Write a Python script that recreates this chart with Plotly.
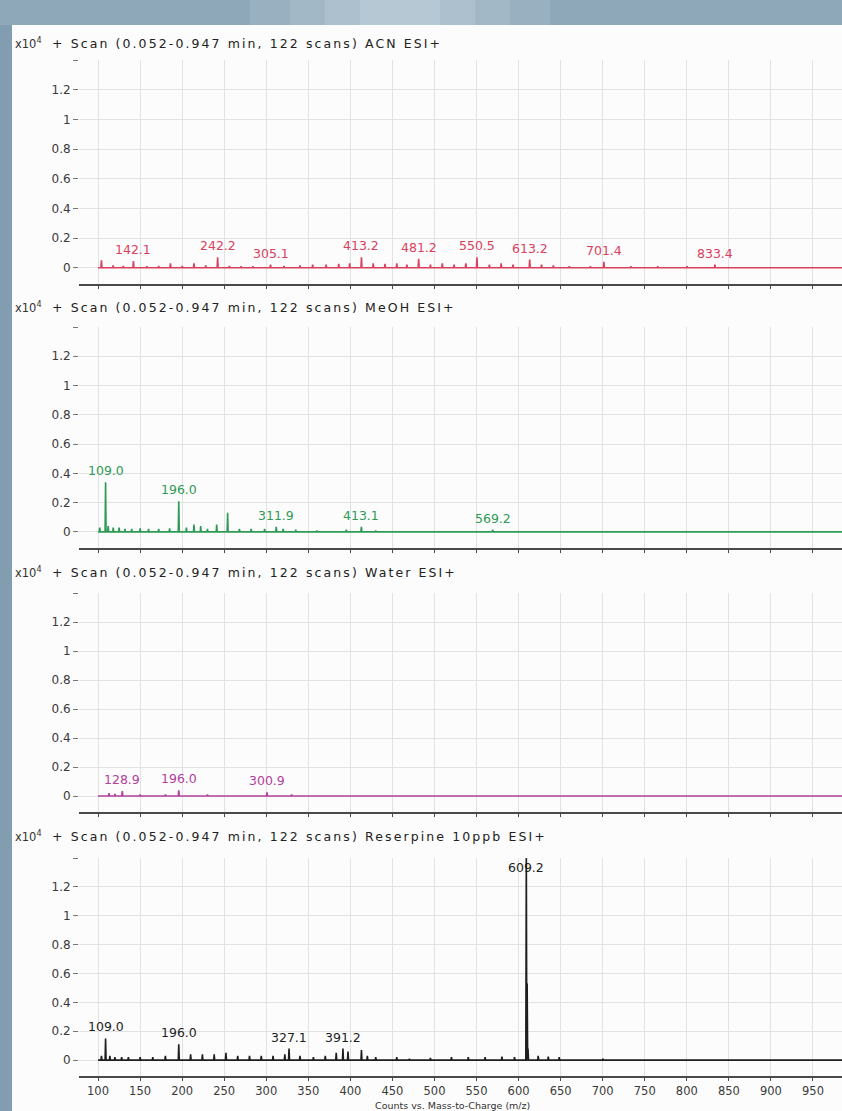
import plotly.graph_objects as go

W, H = 842, 1111

# ---------------- data (intensity in units of 10^4 counts) ----------------
scan_range = [100, 1000]
y_tick_vals = [0, 0.2, 0.4, 0.6, 0.8, 1.0, 1.2, 1.4]
y_tick_text = ["0", "0.2", "0.4", "0.6", "0.8", "1", "1.2", ""]
x_tick_vals = [100, 150, 200, 250, 300, 350, 400, 450, 500, 550, 600, 650, 700, 750, 800, 850, 900, 950]

titles = [
    "+ Scan (0.052-0.947 min, 122 scans) ACN ESI+",
    "+ Scan (0.052-0.947 min, 122 scans) MeOH ESI+",
    "+ Scan (0.052-0.947 min, 122 scans) Water ESI+",
    "+ Scan (0.052-0.947 min, 122 scans) Reserpine 10ppb ESI+",
]
x_title = "Counts vs. Mass-to-Charge (m/z)"

acn_mz = [104.1, 118.0, 130.1, 142.1, 158.1, 172.1, 186.1, 200.1, 214.1, 228.1, 242.2, 256.2,
          270.2, 284.2, 305.1, 321.2, 340.2, 355.2, 371.2, 386.2, 399.2, 413.2, 427.2, 441.2,
          455.2, 467.2, 481.2, 495.2, 509.3, 523.3, 537.3, 550.5, 565.3, 579.3, 593.3, 613.2,
          627.3, 641.3, 660.3, 685.4, 701.4, 733.4, 765.4, 800.4, 833.4]
acn_int = [0.05, 0.015, 0.012, 0.045, 0.01, 0.012, 0.03, 0.012, 0.03, 0.015, 0.07, 0.012,
           0.01, 0.01, 0.02, 0.012, 0.015, 0.02, 0.02, 0.025, 0.03, 0.07, 0.03, 0.025,
           0.03, 0.02, 0.06, 0.02, 0.03, 0.02, 0.03, 0.07, 0.02, 0.03, 0.02, 0.055,
           0.02, 0.015, 0.01, 0.01, 0.04, 0.01, 0.01, 0.01, 0.02]
acn_labels = [142.1, 242.2, 305.1, 413.2, 481.2, 550.5, 613.2, 701.4, 833.4]

meoh_mz = [102.1, 109.0, 112.1, 118.1, 125.1, 132.1, 140.1, 150.1, 160.1, 172.1, 185.1, 196.0,
           205.1, 214.1, 222.1, 230.1, 241.1, 254.1, 268.1, 282.1, 298.1, 311.9, 320.1, 335.1,
           360.2, 395.2, 413.1, 430.2, 569.2]
meoh_int = [0.03, 0.34, 0.04, 0.03, 0.03, 0.02, 0.02, 0.025, 0.02, 0.02, 0.025, 0.21,
            0.03, 0.05, 0.04, 0.02, 0.05, 0.13, 0.02, 0.02, 0.02, 0.035, 0.02, 0.015,
            0.01, 0.015, 0.035, 0.01, 0.015]
meoh_labels = [109.0, 196.0, 311.9, 413.1, 569.2]

water_mz = [113.1, 120.1, 128.9, 150.1, 180.1, 196.0, 230.1, 300.9, 330.2]
water_int = [0.02, 0.015, 0.035, 0.01, 0.01, 0.04, 0.01, 0.025, 0.01]
water_labels = [128.9, 196.0, 300.9]

res_mz = [104.1, 109.0, 114.1, 120.1, 128.1, 136.1, 150.1, 165.1, 180.1, 196.0, 210.1, 224.1,
          238.1, 252.1, 266.1, 280.1, 294.1, 308.1, 322.1, 327.1, 340.1, 356.1, 370.2, 383.2,
          391.2, 397.2, 413.2, 420.2, 430.2, 455.2, 470.2, 495.2, 520.2, 540.2, 560.2, 580.2,
          595.2, 609.2, 610.2, 611.2, 623.3, 635.3, 648.3, 700.3]
res_int = [0.03, 0.15, 0.03, 0.02, 0.02, 0.02, 0.02, 0.02, 0.03, 0.11, 0.04, 0.04,
           0.04, 0.05, 0.03, 0.03, 0.03, 0.03, 0.04, 0.08, 0.03, 0.02, 0.03, 0.05,
           0.08, 0.06, 0.07, 0.03, 0.02, 0.02, 0.01, 0.015, 0.02, 0.02, 0.02, 0.025,
           0.02, 1.45, 0.53, 0.08, 0.03, 0.025, 0.02, 0.01]
res_labels = [109.0, 196.0, 327.1, 391.2, 609.2]

series = [
    (acn_mz, acn_int, acn_labels, "#d9415f"),
    (meoh_mz, meoh_int, meoh_labels, "#2f9a55"),
    (water_mz, water_int, water_labels, "#b2409c"),
    (res_mz, res_int, res_labels, "#1e1e1e"),
]

# ---------------- layout geometry (pixels) ----------------
plot_left_px = 79
panel_px = [(60, 284), (327, 548), (593, 812), (858, 1076)]
title_row_px = [43, 307, 572, 836]
y_range = [-0.11, 1.4]
x_range = [77.4, 984.5]

FONT = "DejaVu Sans, Verdana, sans-serif"


def yp(px):
    return 1 - px / H


def xp(px):
    return px / W


def spaced(text, px):
    return f'<span style="letter-spacing:{px}px">{text}</span>'


fig = go.Figure()
annotations = []

for i, (mz, inten, labels, color) in enumerate(series):
    n = i + 1
    xa = "x" if n == 1 else f"x{n}"
    ya = "y" if n == 1 else f"y{n}"
    pairs = sorted(zip(mz, inten))
    xs, ys = [scan_range[0]], [0]
    for m, v in pairs:
        xs += [m - 0.6, m, m + 0.6]
        ys += [0, v, 0]
    xs.append(scan_range[1])
    ys.append(0)
    fig.add_trace(go.Scatter(x=xs, y=ys, mode="lines", line=dict(color=color, width=1.6),
                             xaxis=xa, yaxis=ya, showlegend=False, hoverinfo="skip"))
    lookup = dict(pairs)
    for lab in labels:
        v = lookup[lab]
        if v >= y_range[1]:
            yv, anch, shift = y_range[1], "top", 0
        else:
            yv, anch, shift = v, "bottom", 2
        annotations.append(dict(x=lab, y=yv, xref=xa, yref=ya, text=f"{lab:.1f}",
                                showarrow=False, yanchor=anch, xanchor="center", yshift=shift,
                                font=dict(family=FONT, size=12.5, color=color)))

    top_px, bot_px = panel_px[i]
    fig.update_layout({
        ("xaxis" if n == 1 else f"xaxis{n}"): dict(
            domain=[xp(plot_left_px), 1], range=x_range, anchor=ya,
            tickvals=x_tick_vals, showticklabels=(n == 4),
            showgrid=True, gridcolor="#e2e2e2", gridwidth=1,
            showline=True, linecolor="#4a4a4a", linewidth=2,
            ticks="outside", ticklen=3, tickcolor="#4a4a4a", tickwidth=1,
            ticklabelstandoff=0,
            zeroline=False, tickfont=dict(family=FONT, size=11.5, color="#3a3a3a"),
        ),
        ("yaxis" if n == 1 else f"yaxis{n}"): dict(
            domain=[yp(bot_px), yp(top_px)], range=y_range, anchor=xa,
            tickvals=y_tick_vals, ticktext=y_tick_text,
            showgrid=True, gridcolor="#e2e2e2", gridwidth=1,
            showline=False, zeroline=False,
            ticks="outside", ticklen=5, tickcolor="#777", tickwidth=1,
            tickfont=dict(family=FONT, size=12, color="#3a3a3a"),
        ),
    })

    ty = yp(title_row_px[i])
    annotations.append(dict(x=xp(13), y=ty, xref="paper", yref="paper", xanchor="left",
                            yanchor="middle", showarrow=False, text="x10<sup>4</sup>",
                            font=dict(family=FONT, size=11.5, color="#333")))
    annotations.append(dict(x=xp(50), y=ty, xref="paper", yref="paper", xanchor="left",
                            yanchor="middle", showarrow=False, text=spaced(titles[i], 2.1),
                            font=dict(family=FONT, size=12.5, color="#222")))

annotations.append(dict(x=xp(452), y=0, xref="paper", yref="paper", xanchor="center",
                        yanchor="bottom", yshift=-2, showarrow=False,
                        text=x_title,
                        font=dict(family=FONT, size=9.5, color="#333")))

# background: blue-grey photo frame with a lighter glare at the top centre
shapes = [
    dict(type="rect", xref="paper", yref="paper", x0=xp(12), x1=1, y0=0, y1=yp(25),
         fillcolor="#fcfcfc", line=dict(width=0), layer="below"),
    dict(type="rect", xref="paper", yref="paper", x0=0, x1=xp(12), y0=0, y1=yp(25),
         fillcolor="#829db0", line=dict(width=0), layer="below"),
]
for k, (half, alpha) in enumerate([(150, 0.12), (110, 0.14), (75, 0.16), (40, 0.2)]):
    shapes.append(dict(type="rect", xref="paper", yref="paper", x0=xp(400 - half),
                       x1=xp(400 + half), y0=yp(25), y1=1,
                       fillcolor=f"rgba(225,235,242,{alpha})", line=dict(width=0), layer="below"))

fig.update_layout(
    width=W, height=H,
    margin=dict(l=0, r=0, t=0, b=0),
    paper_bgcolor="#8fa8b9",
    plot_bgcolor="rgba(0,0,0,0)",
    annotations=annotations,
    shapes=shapes,
    showlegend=False,
)

fig.write_html("out.html", config={"displayModeBar": False},
               post_script="document.body.style.margin='0';document.body.style.overflow='hidden';")
